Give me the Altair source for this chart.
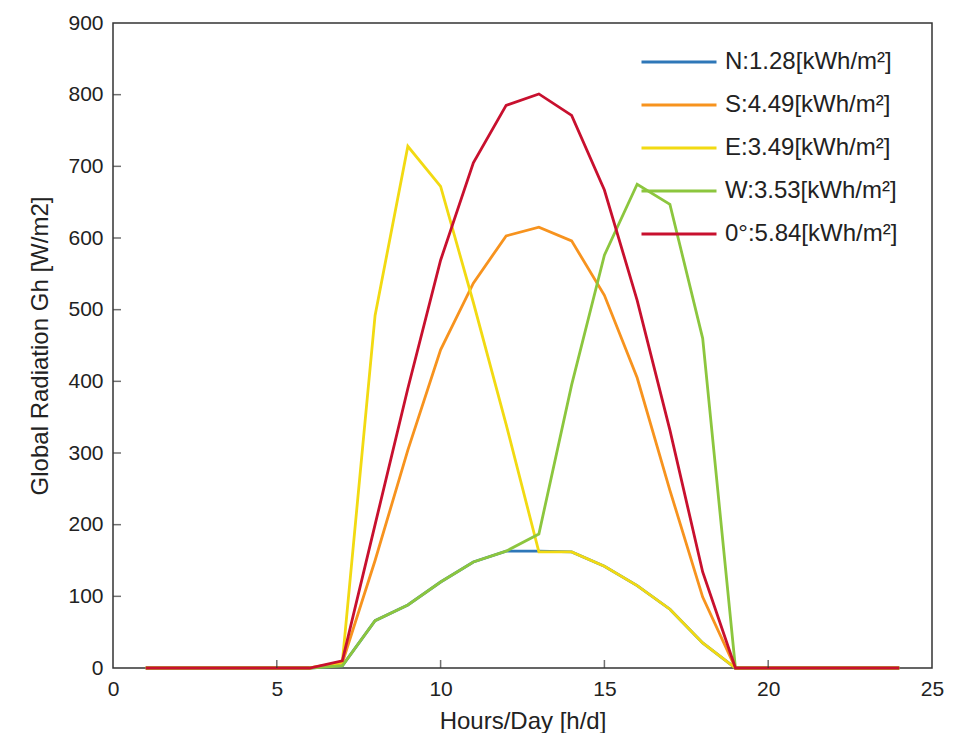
import altair as alt
import pandas as pd

hours = list(range(1, 25))
north = [0, 0, 0, 0, 0, 0, 3, 66, 88, 120, 148, 163, 163, 162, 142, 115, 82, 35, 0, 0, 0, 0, 0, 0]
south = [0, 0, 0, 0, 0, 0, 7, 150, 304, 444, 537, 603, 615, 596, 520, 405, 248, 99, 0, 0, 0, 0, 0, 0]
east = [0, 0, 0, 0, 0, 0, 8, 492, 728, 672, 510, 340, 162, 162, 142, 115, 82, 35, 0, 0, 0, 0, 0, 0]
west = [0, 0, 0, 0, 0, 0, 3, 66, 88, 120, 148, 163, 187, 395, 576, 675, 647, 460, 0, 0, 0, 0, 0, 0]
horizontal = [0, 0, 0, 0, 0, 0, 10, 200, 390, 569, 705, 785, 801, 771, 667, 513, 332, 134, 0, 0, 0, 0, 0, 0]

series_labels = [
    "N:1.28[kWh/m²]",
    "S:4.49[kWh/m²]",
    "E:3.49[kWh/m²]",
    "W:3.53[kWh/m²]",
    "0°:5.84[kWh/m²]",
]
series_values = [north, south, east, west, horizontal]
colors = ["#2E77B8", "#F7931E", "#F2DA12", "#8CC63E", "#C8102E"]

x_ticks = [0, 5, 10, 15, 20, 25]
y_ticks = [0, 100, 200, 300, 400, 500, 600, 700, 800, 900]

rows = []
for label, vals in zip(series_labels, series_values):
    for h, v in zip(hours, vals):
        rows.append({"hour": h, "value": v, "series": label})
df = pd.DataFrame(rows)

xt_df = pd.DataFrame({"tick": x_ticks[1:-1], "base": 0})
yt_df = pd.DataFrame({"tick": y_ticks[1:-1], "base": 0})

FONT = "Liberation Sans"

x_scale = alt.Scale(domain=[0, 25], nice=False, zero=False)
y_scale = alt.Scale(domain=[0, 900], nice=False)

lines = alt.Chart(df).mark_line(strokeWidth=2.8).encode(
    x=alt.X("hour:Q", scale=x_scale,
            axis=alt.Axis(values=x_ticks, title="Hours/Day [h/d]", grid=False, domain=False,
                          ticks=False, labelPadding=10, labelFontSize=21, titleFontSize=24,
                          titleFontWeight="normal", titlePadding=10, labelFont=FONT,
                          titleFont=FONT, labelColor="#222", titleColor="#222",
                          labelFlush=False)),
    y=alt.Y("value:Q", scale=y_scale,
            axis=alt.Axis(values=y_ticks, title="Global Radiation Gh [W/m2]", grid=False,
                          domain=False, ticks=False, labelPadding=10, labelFontSize=21,
                          titleFontSize=24, titleFontWeight="normal", titlePadding=15,
                          labelFont=FONT, titleFont=FONT, labelColor="#222",
                          titleColor="#222", labelFlush=False)),
    color=alt.Color("series:N", sort=series_labels,
                    scale=alt.Scale(domain=series_labels, range=colors),
                    legend=alt.Legend(title=None, orient="none", legendX=527, legendY=29,
                                      symbolType="stroke", symbolSize=5625,
                                      symbolStrokeWidth=2.8, clipHeight=20, rowPadding=19,
                                      labelFontSize=24, labelFont=FONT, labelColor="#222",
                                      padding=0, labelOffset=7, labelLimit=400)),
)

x_tick_marks = alt.Chart(xt_df).mark_tick(
    orient="vertical", size=8, thickness=1.5, color="#333", yOffset=-4
).encode(
    x=alt.X("tick:Q", scale=x_scale),
    y=alt.Y("base:Q", scale=y_scale),
)

y_tick_marks = alt.Chart(yt_df).mark_tick(
    orient="horizontal", size=8, thickness=1.5, color="#333", xOffset=4
).encode(
    x=alt.X("base:Q", scale=x_scale),
    y=alt.Y("tick:Q", scale=y_scale),
)

chart = alt.layer(lines, x_tick_marks, y_tick_marks).properties(
    width=819,
    height=645,
    autosize=alt.AutoSizeParams(type="none"),
    padding={"left": 105, "top": 15, "right": 16, "bottom": 65},
).configure_view(
    stroke="#333", strokeWidth=1.5
)

chart.save("out.html", embed_options={"renderer": "svg", "actions": False})
